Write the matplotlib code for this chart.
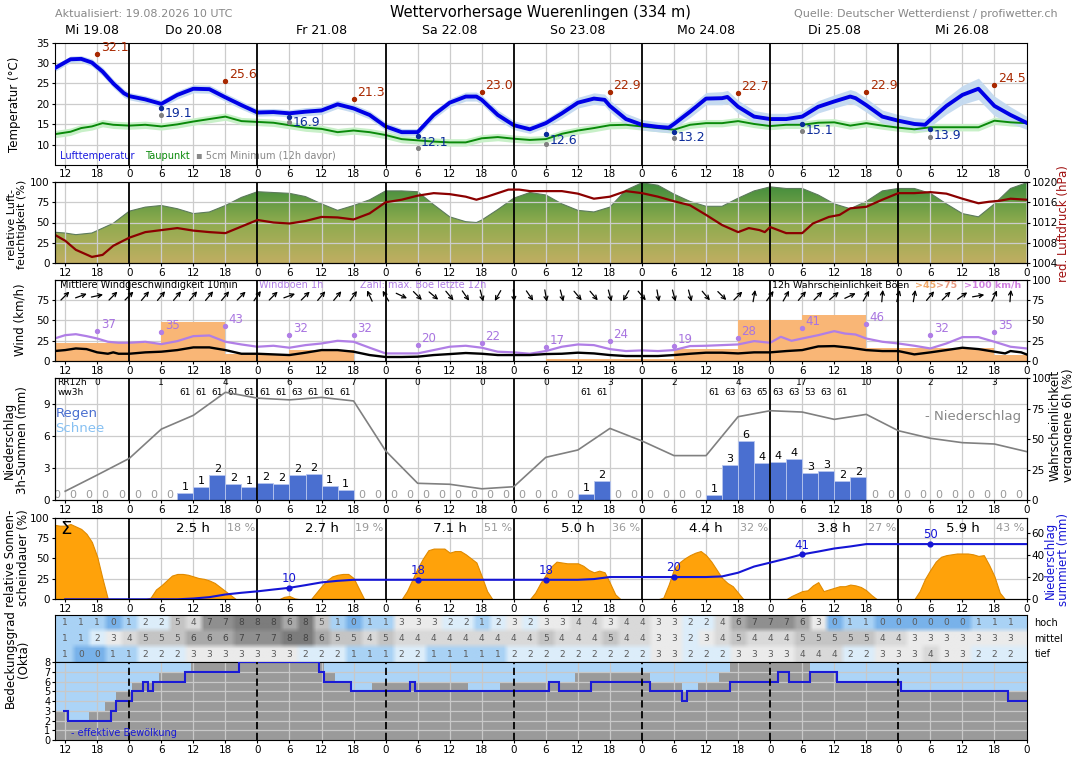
import numpy as np
import matplotlib
matplotlib.use("Agg")
import matplotlib.pyplot as plt
from matplotlib.colors import LinearSegmentedColormap, to_rgb
from matplotlib.transforms import offset_copy

# Zeitachse: Stunden ab Mi 19.08. 00 UTC
T0, T1 = 10, 192
days = ["Mi 19.08", "Do 20.08", "Fr 21.08", "Sa 22.08", "So 23.08", "Mo 24.08", "Di 25.08", "Mi 26.08"]

# Temperatur
temp_h = [10, 13, 15, 17, 19, 21, 23, 24, 27, 30, 33, 36, 39, 42, 45, 48, 51, 54, 57, 60,
          63, 66, 69, 72, 75, 78, 81, 84, 87, 89, 90, 93, 96, 99, 102, 105, 108, 111, 113, 114,
          117, 120, 123, 125, 126, 129, 132, 135, 136, 138, 141, 144, 147, 150, 153, 156, 159, 160, 162, 165,
          168, 171, 173, 174, 177, 180, 183, 186, 189, 192]
temp_v = [28.7, 30.9, 31.0, 30.1, 27.9, 25.0, 22.6, 21.9, 21.1, 20.0, 22.2, 23.7, 23.6, 21.6, 19.7, 17.9, 18.0, 17.7, 18.1, 18.4,
          19.9, 18.9, 17.3, 14.5, 13.1, 13.1, 17.3, 20.3, 21.8, 21.8, 21.0, 17.3, 14.8, 13.8, 15.3, 17.7, 20.3, 21.3, 21.0, 19.5,
          16.3, 14.9, 14.4, 14.2, 15.1, 18.1, 21.3, 21.4, 21.7, 19.3, 16.9, 16.3, 16.3, 16.9, 19.3, 20.6, 21.8, 21.4, 19.7, 16.9,
          15.9, 15.1, 14.9, 16.1, 19.5, 22.2, 23.7, 19.5, 17.3, 15.4]
temp_spread = [0.8, 0.8, 0.8, 0.9, 1.0, 1.0, 1.0, 0.9, 0.9, 0.9, 1.0, 1.0, 1.0, 1.0, 1.0, 0.9, 0.9, 0.9, 1.0, 1.0,
               1.0, 1.0, 1.0, 1.0, 0.9, 0.9, 1.0, 1.0, 1.1, 1.1, 1.1, 1.2, 1.1, 1.0, 1.0, 1.2, 1.3, 1.4, 1.4, 1.4,
               1.4, 1.3, 1.2, 1.2, 1.2, 1.4, 1.5, 1.6, 1.6, 1.6, 1.5, 1.4, 1.4, 1.4, 1.5, 1.6, 1.7, 1.7, 1.7, 1.6,
               1.5, 1.5, 1.5, 1.6, 2.0, 2.3, 2.6, 2.4, 2.0, 1.6]
dew_h = [10, 13, 15, 17, 19, 21] + list(range(24, 193, 3))
dew_v = [12.6, 13.2, 14.1, 14.5, 15.3, 14.9, 14.7, 14.9, 14.5, 15.0, 15.7, 16.3, 16.9, 15.8, 15.6, 15.4,
         14.8, 14.2, 13.9, 13.1, 13.5, 13.1, 12.4, 11.4, 11.1, 10.8, 10.6, 10.6, 11.6, 11.9, 11.5, 11.2,
         11.4, 12.7, 13.5, 14.1, 14.8, 14.9, 14.5, 14.1, 13.7, 14.9, 15.3, 15.3, 15.8, 15.1, 14.6, 14.9,
         14.9, 15.4, 15.5, 14.7, 15.3, 14.7, 14.2, 13.8, 14.3, 14.3, 14.3, 14.3, 15.9, 15.5, 15.3]
dew_band = 0.9
tmax_h = [18, 42, 66, 90, 114, 138, 162, 186]
tmax_v = [32.1, 25.6, 21.3, 23.0, 22.9, 22.7, 22.9, 24.5]
tmin_h = [30, 54, 78, 102, 126, 150, 174]
tmin_v = [19.1, 16.9, 12.1, 12.6, 13.2, 15.1, 13.9]
soil_v = [17.2, 15.7, 9.3, 10.1, 11.7, 13.4, 11.8]

# Feuchte und Luftdruck
hum_h = [10, 12, 14, 17, 19, 21] + list(range(24, 88, 3)) + [89] + list(range(90, 193, 3))
hum_v = [38, 37, 35, 37, 43, 49, 64, 69, 71, 67, 61, 63, 71, 81, 88, 87, 86, 82, 73, 65, 71, 78, 89, 89, 88, 72,
         57, 51, 50, 53, 66, 80, 87, 84, 73, 65, 63, 69, 90, 99, 96, 85, 76, 70, 70, 80, 89, 94, 92, 92, 84, 73,
         67, 76, 89, 92, 92, 86, 73, 61, 57, 73, 92, 99]
pres_h = [10, 12, 14, 17, 19, 21] + list(range(24, 88, 3)) + [89, 91, 93, 95, 97, 99] + list(range(102, 139, 3)) \
    + [140, 142, 143, 144, 147, 150, 152, 155, 157, 159] + list(range(162, 184, 3)) + [185, 187, 189, 192]
pres_v = [1009.6, 1008.4, 1006.6, 1005.2, 1005.6, 1007.4, 1009.0, 1010.1, 1010.5, 1010.9, 1010.4, 1010.1, 1009.9,
          1011.2, 1012.5, 1012.0, 1011.8, 1012.3, 1013.1, 1013.0, 1012.6, 1013.8, 1016.0, 1016.5, 1017.3, 1017.8,
          1017.6, 1017.1, 1016.5, 1017.1, 1017.8, 1018.5, 1018.5, 1018.2, 1018.2, 1018.2, 1017.7, 1016.7, 1017.1,
          1018.2, 1017.8, 1017.1, 1016.2, 1015.4, 1013.5, 1011.5, 1010.1, 1010.9, 1010.5, 1010.1, 1011.1, 1009.9,
          1009.9, 1011.8, 1013.1, 1013.5, 1014.8, 1015.1, 1016.5, 1017.8, 1017.8, 1018.0, 1017.7, 1016.7, 1015.8,
          1016.1, 1016.3, 1016.7, 1016.5]

# Wind
wm_h = [10, 12, 14, 16, 18, 20, 21, 22] + list(range(24, 187, 3)) + [188, 189, 191, 192]
wm_v = [12.2, 13.4, 15.4, 14.6, 10.6, 8.9, 10.6, 8.9, 8.9, 10.6, 11.4, 13.4, 16.7, 16.7, 13.4, 8.9, 8.9, 8.1,
        7.3, 10.2, 13.4, 13.4, 11.4, 7.3, 4.9, 4.9, 5.3, 7.3, 8.5, 9.8, 8.9, 7.3, 7.3, 7.3, 8.5, 8.9, 10.2, 9.3,
        7.3, 6.1, 6.1, 6.1, 7.3, 8.9, 10.2, 10.2, 9.3, 10.6, 10.6, 12.2, 13.4, 17.9, 18.3, 16.3, 13.4, 12.2, 12.2,
        8.1, 10.6, 13.4, 16.3, 14.6, 11.4, 9.3, 12.2, 10.6, 8.1]
wg_h = [10, 12, 14, 16, 18, 20, 22, 24] + list(range(27, 142, 3)) + [144, 146, 148, 150, 153, 156, 158, 160, 162] \
    + list(range(165, 193, 3))
wg_v = [27.6, 31.7, 32.9, 30.5, 27.6, 23.6, 22.4, 22.4,
        23.6, 20.7, 24.4, 30.5, 31.3, 23.6, 20.3, 17.5, 18.7, 16.3, 19.5, 21.5, 24.8, 23.6, 16.3, 9.3, 9.3, 9.3,
        13.4, 17.5, 18.7, 16.3, 11.4, 10.6, 8.9, 12.2, 17.5, 20.3, 19.5, 14.6, 12.2, 13.0, 12.2, 13.4, 18.3, 18.7,
        19.5, 20.3, 24.4,
        22.4, 29.7, 24.8, 27.6, 31.7, 36.6, 33.7, 32.5, 27.6,
        23.6, 21.5, 18.7, 15.4, 21.5, 29.3, 29.3, 23.6, 17.5, 15.4]
gmax_h = [18, 30, 42, 54, 66, 78, 90, 102, 114, 126, 138, 150, 162, 174, 186]
gmax_v = [37, 35, 43, 32, 32, 20, 22, 17, 24, 19, 28, 41, 46, 32, 35]
prob_start = [6, 18, 30, 42, 54, 66, 78, 90, 102, 114, 126, 138, 150, 162, 174, 186]
prob_val = [22, 22, 48, 9, 13, 0, 0, 0, 3, 3, 15, 50, 57, 16, 16, 7]
wdir_h = list(range(12, 190, 3))
wdir_deg = [45, 70, 78, 45, 45, 40, 40, 40, 40, 40,
            40, 45, 35, 45, 70, 45, 40, 40, 35, -25,
            -30, 115, 135, 130, 140, 145, 165, 210, 175, 145,
            170, 165, 140, 140, 165, 210, 140, 170, 165, 165,
            140, 135, 45, 10, 35, 30, 40, 45, 50, 65,
            30, 5, 15, 10, 40, 45, 55, 80, 25, 5]

# Niederschlag (3h-Summen ab 09 UTC)
slot_start = list(range(9, 190, 3))
precip_3h = [0, 0, 0, 0, 0, 0, 0, 0,
             0.7, 1.25, 2.4, 1.55, 1.3, 1.65, 1.55, 2.4, 2.5, 1.4, 0.95,
             0, 0, 0, 0, 0, 0, 0, 0, 0, 0, 0, 0, 0, 0,
             0.65, 1.85,
             0, 0, 0, 0, 0, 0,
             0.55, 3.35, 5.6, 3.55, 3.6, 3.85, 2.55, 2.75, 1.85, 2.15,
             0, 0, 0, 0, 0, 0, 0, 0, 0, 0]
prob6_h = list(range(12, 193, 6))
prob6_v = [7.6, 20.9, 34.5, 58.5, 69.8, 88.7, 83.9, 82.5, 84.5, 81.6, 40.7, 14.1, 13.3, 9.6, 11.3, 35.4,
           41.4, 59.1, 48.8, 36.8, 36.8, 68.7, 73.6, 72.5, 66.5, 70.6, 57.2, 51.0, 47.4, 46.3, 40.1]
rr12_h = list(range(18, 187, 12))
rr12_v = [0, 1, 4, 6, 7, 0, 0, 0, 3, 2, 4, 17, 10, 2, 3]
ww_h = [34.5, 37.5, 40.5, 43.5, 46.5, 49.5, 52.5, 55.5, 58.5, 61.5, 64.5, 109.5, 112.5,
        133.5, 136.5, 139.5, 142.5, 145.5, 148.5, 151.5, 154.5, 157.5]
ww_code = [61, 61, 61, 61, 61, 61, 61, 63, 61, 61, 61, 61, 61, 61, 63, 63, 65, 63, 63, 53, 63, 61]

# Sonnenscheindauer (stündlich ab 10 UTC)
sun_h = list(range(10, 193))
sun_rel = [91, 90, 90, 92, 89, 86, 80, 70, 52, 25, 0, 0, 0, 0,
           0, 0, 0, 0, 2, 12, 17, 23, 29, 31, 31, 30, 28, 26, 25, 23, 20, 15, 10, 5, 0, 0, 0, 0,
           0, 0, 0, 0, 0, 3, 4, 1, 0, 0, 0, 8, 16, 23, 28, 30, 31, 31, 26, 13, 0, 0, 0, 0,
           0, 0, 0, 0, 10, 24, 38, 50, 60, 62, 62, 62, 57, 59, 59, 55, 50, 45, 28, 10, 0, 0, 0, 0,
           0, 0, 0, 0, 8, 20, 30, 40, 46, 45, 44, 44, 44, 41, 36, 33, 35, 33, 20, 6, 0, 0, 0, 0,
           0, 0, 0, 0, 2, 18, 37, 45, 50, 54, 57, 59, 54, 46, 36, 26, 20, 16, 8, 0, 0, 0, 0, 0,
           0, 0, 0, 0, 4, 7, 10, 11, 17, 21, 10, 12, 14, 16, 16, 18, 17, 15, 11, 5, 0, 0, 0, 0,
           0, 0, 0, 0, 10, 25, 36, 46, 52, 54, 55, 56, 56, 56, 55, 53, 54, 42, 28, 8, 0, 0, 0, 0, 0]
sun_day_h = [36, 60, 84, 108, 132, 156, 180]
sun_day_txt = ["2.5 h", "2.7 h", "7.1 h", "5.0 h", "4.4 h", "3.8 h", "5.9 h"]
sun_day_pct = [18, 19, 51, 36, 32, 27, 43]
cum_label_h = [54, 78, 102, 126, 150, 174]

# Bewölkung
cloud_h = list(range(12, 190, 3))
cloud_high = [1, 1, 1, 0, 1, 2, 2, 5, 4, 7, 7, 8, 8, 8, 6, 8, 5, 1, 0, 1, 1, 3, 3, 3, 2, 2, 1, 2, 3, 2,
              3, 3, 4, 4, 3, 4, 4, 3, 3, 2, 2, 4, 6, 7, 7, 7, 6, 3, 0, 1, 1, 0, 0, 0, 0, 0, 0, 1, 1, 1]
cloud_mid = [1, 1, 2, 3, 4, 5, 5, 5, 6, 6, 6, 7, 7, 7, 8, 8, 6, 5, 5, 4, 5, 4, 4, 4, 4, 4, 4, 4, 4, 4,
             5, 4, 4, 4, 5, 4, 4, 3, 3, 2, 3, 4, 5, 4, 4, 4, 5, 5, 5, 5, 5, 4, 4, 3, 3, 3, 3, 3, 3, 3]
cloud_low = [1, 0, 0, 1, 1, 2, 2, 2, 3, 3, 3, 3, 3, 3, 3, 2, 2, 2, 1, 1, 1, 2, 2, 1, 1, 1, 1, 1, 2, 2,
             2, 2, 2, 2, 2, 2, 2, 3, 3, 2, 2, 2, 3, 3, 3, 3, 4, 4, 4, 2, 2, 3, 3, 3, 4, 3, 3, 2, 2, 2]
cover_start = [10, 12.5, 16.5, 19.5, 21.5, 24.5, 29.5, 35.5, 60.5, 62.5, 65.5, 69.5, 87.5, 93.5, 107.5,
               121.5, 127.5, 130.5, 134.5, 136.5, 151.5, 156.5, 168.5]
cover_val = [3, 2, 3, 4, 5, 6, 7, 8, 7, 6, 5, 6, 5, 6, 7, 6, 5, 6, 7, 8, 7, 6, 5]
eff_start = [11.5, 12.5, 20.5, 21.5, 24.5, 26.5, 27.5, 28.5, 34.5, 44.5, 59.5, 60.5, 65.5, 76.5, 77.5,
             102.5, 104.5, 110.5, 121.5, 127.5, 128.5, 136.5, 145.5, 147.5, 151.5, 156.5, 168.5, 188.5]
eff_val = [3, 2, 3, 4, 5, 6, 5, 6, 7, 8, 7, 6, 5, 6, 5, 6, 5, 6, 5, 4, 5, 6, 7, 6, 7, 6, 5, 4]
cloud_colors = ['#78b2ea', '#a9d2f5', '#dcedfa', '#ebebeb', '#d9d9d9', '#c4c4c4', '#a9a9a9', '#8f8f8f', '#7c7c7c']

W, H = 1072, 758
fig = plt.figure(figsize=(W / 100, H / 100), dpi=100)
plt.rcParams['font.size'] = 7.5
ticks = list(range(12, 193, 6))
GRID = '#cccccc'


def panel(top, bottom):
    return fig.add_axes([54.5 / W, 1 - bottom / H, 972 / W, (bottom - top) / H])


def time_axis(ax, labels=True, midnight_ls='-', grid_z=0.5, grid_color=GRID):
    ax.set_xlim(T0, T1)
    ax.set_xticks(ticks)
    ax.set_xticklabels([str(t % 24) for t in ticks] if labels else [])
    ax.tick_params(labelsize=7.5, length=2, pad=1.5)
    for t in ticks:
        if t % 24 == 0 and t < T1:
            ax.axvline(t, color='black', lw=1.3, ls=midnight_ls, zorder=4)
        elif t < T1:
            ax.axvline(t, color=grid_color, lw=0.9, zorder=grid_z)


def hgrid(ax, values, color=GRID, z=0.5):
    for v in values:
        ax.axhline(v, color=color, lw=0.9, zorder=z)


def ftext(x, y, s, **kw):
    fig.text(x / W, 1 - y / H, s, **kw)


# Kopfzeile
ftext(55, 14, "Aktualisiert: 19.08.2026 10 UTC", color='#888888', fontsize=8, va='center')
ftext(540, 12, "Wettervorhersage Wuerenlingen (334 m)", fontsize=10.5, ha='center', va='center')
ftext(1058, 14, "Quelle: Deutscher Wetterdienst / profiwetter.ch", color='#888888', fontsize=8,
      ha='right', va='center')
for i, d in enumerate(days):
    mid = 17 if i == 0 else 24 * i + 12
    ftext(54.5 + (mid - T0) * 972 / (T1 - T0), 31, d, fontsize=9, ha='center', va='center')

# Temperatur
ax = panel(42.5, 164.5)
tv, ts = np.array(temp_v), np.array(temp_spread)
dv = np.array(dew_v)
ax.fill_between(dew_h, dv - dew_band, dv + dew_band, color='#c8f0c8', lw=0, zorder=1)
ax.fill_between(temp_h, tv - ts, tv + ts, color='#c3d9f0', lw=0, alpha=0.95, zorder=1.2)
ax.plot(dew_h, dew_v, color='#0a8a0a', lw=1.4, zorder=2)
ax.plot(temp_h, temp_v, color='#0000e6', lw=2.8, zorder=3)
ax.scatter(tmax_h, tmax_v, s=8, color='#a82800', zorder=5)
for h, v in zip(tmax_h, tmax_v):
    ax.annotate(f"{v:.1f}", (h, v), xytext=(2.5, 0), textcoords='offset points', fontsize=9,
                color='#a82800', va='bottom')
ax.scatter(tmin_h, soil_v, s=7, color='#808080', zorder=5)
ax.scatter(tmin_h, tmin_v, s=8, color='#0a2a9a', zorder=5)
for h, v in zip(tmin_h, tmin_v):
    ax.annotate(f"{v:.1f}", (h, v), xytext=(2.5, -4.5), textcoords='offset points', fontsize=9,
                color='#0a2a9a', va='center')
ax.text(11, 7.3, "Lufttemperatur", color='#1a1ae0', fontsize=7, va='center')
ax.text(27, 7.3, "Taupunkt", color='#0a8a0a', fontsize=7, va='center')
ax.text(36.5, 7.3, "\u25aa 5cm Minimum (12h davor)", color='#888888', fontsize=7, va='center')
ax.set_ylim(5.2, 35)
ax.set_yticks(range(10, 36, 5))
hgrid(ax, range(10, 35, 5))
time_axis(ax)
ftext(14.5, 104, "Temperatur (°C)", rotation=90, ha='center', va='center', fontsize=8.5)

# Luftfeuchtigkeit mit Farbverlauf
ax = panel(182, 263)
poly = ax.fill_between(hum_h, hum_v, 0, color='none', lw=0)
hum_cmap = LinearSegmentedColormap.from_list('hum', [(0, '#c0ae62'), (0.5, '#8eab4e'), (1, '#3a8a3a')])
grad = np.linspace(0, 1, 256).reshape(-1, 1)
im = ax.imshow(grad, extent=(T0, T1, 0, 100), origin='lower', aspect='auto', cmap=hum_cmap, zorder=1)
im.set_clip_path(poly.get_paths()[0], transform=ax.transData)
ax.plot(hum_h, hum_v, color='#5c7a5c', lw=0.8, zorder=2)
ax.set_ylim(0, 100)
ax.set_yticks([0, 25, 50, 75, 100])
hgrid(ax, [25, 50, 75], z=2.5)
time_axis(ax, grid_z=2.5)
axp = ax.twinx()
axp.plot(pres_h, pres_v, color='#8b0000', lw=1.6)
axp.set_ylim(1004, 1020)
axp.set_yticks(range(1004, 1021, 4))
axp.tick_params(labelsize=7.5, length=2, pad=1.5)
axp.set_xlim(T0, T1)
ftext(17, 224, "relative Luft-\nfeuchtigkeit (%)", rotation=90, ha='center', va='center', fontsize=8,
      linespacing=1.0)
ftext(1063, 224, "red. Luftdruck (hPa)", rotation=90, ha='center', va='center', fontsize=8.5, color='#a01010')

# Wind
ax = panel(279.5, 361)
ax.bar(prob_start, prob_val, width=12, align='edge', color='#f9b676', lw=0, zorder=1)
hgrid(ax, [25, 50, 75], z=0.5)
ax.plot(wg_h, wg_v, color='#b07ee6', lw=1.6, zorder=3)
ax.plot(wm_h, wm_v, color='black', lw=1.7, zorder=3)
ax.scatter(gmax_h, gmax_v, s=8, color='#b07ee6', zorder=5)
for h, v in zip(gmax_h, gmax_v):
    ax.annotate(f"{v}", (h, v), xytext=(2.5, 0), textcoords='offset points', fontsize=8.5,
                color='#a874e0', va='bottom')
for h, d in zip(wdir_h, wdir_deg):
    dx, dy = 4.3 * np.sin(np.radians(d)), 4.3 * np.cos(np.radians(d))
    tip = offset_copy(ax.transData, fig=fig, x=dx, y=dy, units='points')
    ax.annotate('', xy=(h, 80), xycoords=tip, xytext=(-2 * dx, -2 * dy), textcoords='offset points',
                arrowprops=dict(arrowstyle='->', lw=0.9, color='black', shrinkA=0, shrinkB=0,
                                mutation_scale=7), zorder=6)
ax.text(11, 93, "Mittlere Windgeschwindigkeit 10min", fontsize=7, va='center', zorder=7)
ax.text(48.3, 93, "Windböen 1h", fontsize=7, va='center', color='#b07ee6', zorder=7)
ax.text(67.2, 93, "Zahl: max. Böe letzte 12h", fontsize=7, va='center', color='#b07ee6', zorder=7)
ax.text(144.4, 93, "12h Wahrscheinlichkeit Böen", fontsize=6.8, va='center', zorder=7)
ax.text(171.2, 93, ">45", fontsize=6.8, va='center', color='#f0a868', fontweight='bold', zorder=7)
ax.text(175.0, 93, ">75", fontsize=6.8, va='center', color='#e89a80', fontweight='bold', zorder=7)
ax.text(180.3, 93, ">100 km/h", fontsize=6.8, va='center', color='#d080e0', fontweight='bold', zorder=7)
ax.set_ylim(0, 100)
ax.set_yticks([0, 25, 50, 75])
time_axis(ax)
axw = ax.twinx()
axw.set_ylim(0, 100)
axw.set_yticks([0, 25, 50, 75, 100])
axw.tick_params(labelsize=7.5, length=2, pad=1.5)
ftext(20, 320, "Wind (km/h)", rotation=90, ha='center', va='center', fontsize=8.5)

# Niederschlag
ax = panel(378.5, 500.5)
ax.bar(slot_start, precip_3h, width=3, align='edge', color='#4a6fd0', edgecolor='#b8c6ee', lw=0.6, zorder=2)
for s, v in zip(slot_start, precip_3h):
    if v > 0:
        ax.text(s + 1.5, v + 0.08, f"{v:.0f}", ha='center', va='bottom', fontsize=8, zorder=6)
    else:
        ax.text(s + 1.5, 0.5, "0", ha='center', va='center', fontsize=8, color='#999999', zorder=6,
                clip_on=True)
for h, v in zip(rr12_h, rr12_v):
    ax.text(h, 11.0, str(v), ha='center', va='center', fontsize=6.5, zorder=6)
for h, c in zip(ww_h, ww_code):
    ax.text(h, 10.05, str(c), ha='center', va='center', fontsize=6.5, zorder=6)
ax.text(10.5, 11.0, "RR12h", fontsize=6.5, va='center')
ax.text(10.5, 10.05, "ww3h", fontsize=6.5, va='center')
ax.text(10.2, 8.1, "Regen", fontsize=9.5, color='#4a6fd0', va='center')
ax.text(10.2, 6.7, "Schnee", fontsize=9.5, color='#86c0f2', va='center')
ax.text(191, 7.85, "- Niederschlag", fontsize=9.5, color='#888888', va='center', ha='right', zorder=6)
ax.set_ylim(0, 11.4)
ax.set_yticks([0, 3, 6, 9])
hgrid(ax, [3, 6, 9])
time_axis(ax)
axr = ax.twinx()
axr.plot(prob6_h, prob6_v, color='#808080', lw=1.2)
axr.set_ylim(0, 100)
axr.set_yticks([0, 25, 50, 75, 100])
axr.tick_params(labelsize=7.5, length=2, pad=1.5)
axr.set_xlim(T0, T1)
ftext(16, 440, "Niederschlag\n3h-Summen (mm)", rotation=90, ha='center', va='center', fontsize=8.5,
      linespacing=1.0)
ftext(1062, 425, "Wahrscheinlichkeit\nvergangene 6h (%)", rotation=90, ha='center', va='center',
      fontsize=8.5, linespacing=1.0)

# Sonnenscheindauer und Niederschlagssumme
ax = panel(517.5, 599.3)
ax.fill_between(sun_h, sun_rel, 0, facecolor='#ffa20a', edgecolor='#e08a00', lw=0.8, zorder=2)
for h, t, p in zip(sun_day_h, sun_day_txt, sun_day_pct):
    ax.text(h, 87, t, ha='center', va='center', fontsize=9.5, zorder=6)
    ax.text(h + 9, 87, f"{p} %", ha='center', va='center', fontsize=8, color='#999999', zorder=6)
ax.text(11, 86, "\u03a3", fontsize=13, va='center', zorder=6)
ax.set_ylim(0, 100)
ax.set_yticks([0, 25, 50, 75, 100])
hgrid(ax, [25, 50, 75])
time_axis(ax)
axc = ax.twinx()
cum_t = np.array(slot_start) + 3
cum_v = np.cumsum(precip_3h)
axc.plot(cum_t, cum_v, color='#1515d5', lw=1.5)
cum_lab = np.interp(cum_label_h, cum_t, cum_v)
axc.scatter(cum_label_h, cum_lab, s=12, color='#1515d5', zorder=5)
for h, v in zip(cum_label_h, cum_lab):
    axc.annotate(f"{v:.0f}", (h, v), xytext=(0, 2), textcoords='offset points', ha='center',
                 va='bottom', fontsize=8.5, color='#1515d5')
axc.set_ylim(0, 74)
axc.set_yticks([0, 20, 40, 60])
axc.set_xlim(T0, T1)
axc.tick_params(labelsize=7.5, length=2, pad=1.5)
ftext(17, 558, "relative Sonnen-\nscheindauer (%)", rotation=90, ha='center', va='center', fontsize=8.5,
      linespacing=1.0)
ftext(1057, 560, "Niederschlag\nsummiert (mm)", rotation=90, ha='center', va='center', fontsize=8.5,
      color='#1515d5', linespacing=1.0)

# Wolkenschichten
ax = panel(615, 662.3)
rows = [cloud_high, cloud_mid, cloud_low]
rgb = np.array([[to_rgb(cloud_colors[v]) for v in [r[0]] + r + [r[-1]]] for r in rows])
rgb = np.repeat(np.repeat(rgb, 3, axis=0), 3, axis=1)
ax.imshow(rgb, extent=(7.5, 193.5, 0, 3), origin='upper', aspect='auto', interpolation='bilinear')
for ri, r in enumerate(rows):
    for h, v in zip(cloud_h, r):
        ax.text(h, 2.5 - ri, str(v), ha='center', va='center', fontsize=6.5,
                color='#444444' if v >= 6 else '#5a5a5a')
for ri, name in enumerate(["hoch", "mittel", "tief"]):
    ax.text(193.5, 2.5 - ri, name, ha='left', va='center', fontsize=7, clip_on=False)
ax.set_xlim(T0, T1)
ax.set_ylim(0, 3)
ax.set_xticks([])
ax.set_yticks([])

# Bedeckungsgrad
ax = panel(662.3, 740)
ax.set_facecolor('#acd4f7')
ax.stairs(cover_val, cover_start + [T1], fill=True, color='#9a9a9a', baseline=0, zorder=1)
ax.stairs(eff_val, eff_start + [T1], color='#1a1ad6', lw=1.5, baseline=None, zorder=3)
ax.text(13, 0.7, "- effektive Bewölkung", color='#1a1ad6', fontsize=7, va='center', zorder=6)
ax.set_ylim(0, 8)
ax.set_yticks(range(9))
hgrid(ax, range(1, 8), color='#c8c8c8', z=2)
time_axis(ax, midnight_ls=(0, (4, 2)), grid_z=2, grid_color='#c8c8c8')
ax.tick_params(axis='y', labelsize=7, pad=1)
ftext(17, 659, "Bedeckungsgrad\n(Okta)", rotation=90, ha='center', va='center', fontsize=8.5,
      linespacing=1.0)

fig.savefig("out.png", dpi=100)
